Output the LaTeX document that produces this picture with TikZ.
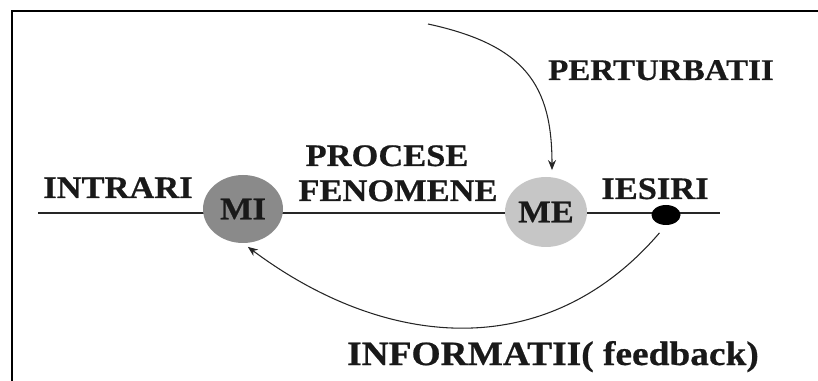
\documentclass[tikz,border=0pt]{standalone}
\usepackage{fontspec}
\usepackage{tikz}
\newfontfamily\diagfont{Liberation Serif}[FakeStretch=1.1, BoldFeatures={FakeBold=0.6}]
\usetikzlibrary{arrows.meta,shapes.geometric}
\definecolor{migray}{HTML}{8A8A8A}
\definecolor{megray}{HTML}{C6C6C6}
\tikzset{
    frame/.style={line width=2pt, black},
    axis/.style={line width=0.8pt, black!85},
    lbl/.style={font=\diagfont\bfseries\fontsize{23.5}{26}\selectfont, anchor=base, inner sep=0pt, text=black!90},
    blob/.style={ellipse, inner sep=0pt, font=\diagfont\bfseries\fontsize{23.5}{26}\selectfont, text=black!90},
    arr/.style={-{Stealth[length=7.5pt,width=6pt]}, line width=0.8pt, black!85}
}
\begin{document}
\begin{tikzpicture}[x=0.75pt,y=-0.75pt]
            \useasboundingbox (0,0) rectangle (818,381);
            \draw[frame] (12,381) -- (12,11) -- (818,11);
            \coordinate (inl) at (38,213);
            \coordinate (outr) at (720,213);
            \draw[axis] (inl) -- (outr);

            \node[blob, fill=migray, minimum width=60pt, minimum height=51pt] (mi) at (243,209) {MI};
            \node[blob, fill=megray, minimum width=61.5pt, minimum height=52.5pt] (me) at (546,212) {ME};
            \node[ellipse, fill=black, inner sep=0pt, minimum width=21.75pt, minimum height=15pt] (iesdot) at (666,215) {};

            \node[lbl] (intrari) at (118,198) {INTRARI};
            \node[lbl] (procese) at (387,166) {PROCESE};
            \node[lbl] (fenomene) at (398,201) {FENOMENE};
            \node[lbl] (iesiri) at (655,199) {IESIRI};
            \node[lbl, font=\diagfont\bfseries\fontsize{22.5}{26}\selectfont] (perturb) at (661,80) {PERTURBATII};
            \node[lbl, font=\diagfont\bfseries\fontsize{25.5}{28}\selectfont] (informatii) at (553,365) {INFORMATII( feedback)};

            \coordinate (pertsrc) at (428,24);
            \draw[arr, shorten >=5pt] (pertsrc) .. controls (525,45) and (552,85) .. ([xshift=4.5pt]me.north);
            \draw[arr, shorten <=7.5pt, shorten >=4.5pt] (iesdot.south) .. controls (547,364) and (386,350) .. (mi.south);
\end{tikzpicture}
\end{document}
